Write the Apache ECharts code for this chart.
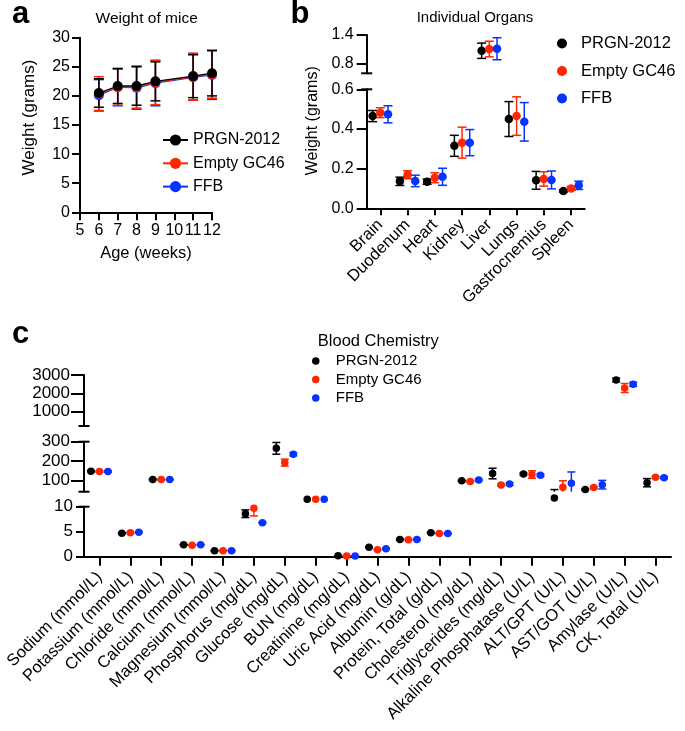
<!DOCTYPE html>
<html>
<head>
<meta charset="utf-8">
<script src="https://cdn.jsdelivr.net/npm/echarts@6/dist/echarts.min.js"></script>
<style>
  html, body { margin: 0; background: #fff; }
  #main { width: 685px; height: 731px; }
</style>
</head>
<body>
<div id="main"></div>
<script>
const groups = ['PRGN-2012', 'Empty GC46', 'FFB'];
const groupColors = ['#000000', '#ff2600', '#0433ff'];

// a: weight of mice
const weeks = [6, 7, 8, 9, 11, 12];
const weekTicks = [5, 6, 7, 8, 9, 10, 11, 12];
const weightTicks = [0, 5, 10, 15, 20, 25, 30];
const weightPRGN = [20.5, 21.7, 21.7, 22.5, 23.4, 23.9];
const weightPRGNSd = [2.45, 3.0, 3.3, 3.35, 3.7, 3.9];
const weightEmpty = [20.4, 21.5, 21.5, 22.3, 23.3, 23.7];
const weightEmptySd = [2.9, 3.1, 3.6, 3.8, 4.05, 4.1];
const weightFFB = [20.1, 21.5, 21.4, 22.2, 23.2, 23.6];
const weightFFBSd = [2.7, 3.2, 3.7, 3.9, 3.9, 4.2];

// b: individual organs (segment 1 = upper part of the broken axis)
const organs = ['Brain', 'Duodenum', 'Heart', 'Kidney', 'Liver', 'Lungs', 'Gastrocnemius', 'Spleen'];
const organSegment = [0, 0, 0, 0, 1, 0, 0, 0];
const organTicksLow = [0, 0.2, 0.4, 0.6];
const organTicksHigh = [0.8, 1.4];
const organPRGN = [0.465, 0.136, 0.134, 0.315, 1.067, 0.45, 0.141, 0.087];
const organPRGNSd = [0.028, 0.021, 0.013, 0.053, 0.162, 0.088, 0.045, 0.005];
const organEmpty = [0.482, 0.169, 0.154, 0.331, 1.103, 0.465, 0.148, 0.100];
const organEmptySd = [0.025, 0.02, 0.025, 0.078, 0.165, 0.097, 0.036, 0.01];
const organFFB = [0.474, 0.138, 0.159, 0.331, 1.109, 0.436, 0.143, 0.116];
const organFFBSd = [0.043, 0.029, 0.043, 0.066, 0.233, 0.097, 0.045, 0.021];

// c: blood chemistry (segment 0 = 0-10, 1 = 100-300, 2 = 1000-3000)
const bloodTests = ['Sodium (mmol/L)', 'Potassium (mmol/L)', 'Chloride (mmol/L)', 'Calcium (mmol/L)',
  'Magnesium (mmol/L)', 'Phosphorus (mg/dL)', 'Glucose (mg/dL)', 'BUN (mg/dL)', 'Creatinine (mg/dL)',
  'Uric Acid (mg/dL)', 'Albumin (g/dL)', 'Protein, Total (g/dL)', 'Cholesterol (mg/dL)',
  'Triglycerides (mg/dL)', 'Alkaline Phosphatase (U/L)', 'ALT/GPT (U/L)', 'AST/GOT (U/L)',
  'Amylase (U/L)', 'CK, Total (U/L)'];
const bloodSegment = [1, 0, 1, 0, 0, 0, 1, 0, 0, 0, 0, 0, 1, 1, 1, 1, 1, 2, 1];
const bloodTicksLow = [0, 5, 10];
const bloodTicksMid = [100, 200, 300];
const bloodTicksHigh = [1000, 2000, 3000];
const bloodPRGN = [149, 4.7, 106, 2.4, 1.2, 8.6, 266, 11.5, 0.2, 1.9, 3.45, 4.8, 100, 137, 135, 12, 55, 2727, 90];
const bloodPRGNSd = [3, 0.1, 2, 0.05, 0.05, 0.77, 30, 0.3, 0.02, 0.1, 0.1, 0.1, 3, 27, 5, 43, 3, 100, 21];
const bloodEmpty = [147, 4.8, 106, 2.3, 1.2, 9.7, 193, 11.5, 0.15, 1.4, 3.4, 4.65, 96, 78, 132, 67, 65, 2291, 118];
const bloodEmptySd = [3, 0.1, 2, 0.05, 0.05, 1.55, 18, 0.3, 0.02, 0.1, 0.1, 0.1, 4, 5, 19, 33, 5, 245, 5];
const bloodFFB = [147, 4.9, 106, 2.4, 1.2, 6.8, 236, 11.5, 0.15, 1.6, 3.45, 4.65, 104, 83, 128, 87, 80, 2493, 116];
const bloodFFBSd = [3, 0.1, 2, 0.05, 0.05, 0.1, 8, 0.3, 0.02, 0.1, 0.1, 0.1, 4, 6, 6, 58, 22, 110, 5];

const font = "'Liberation Sans', Arial, Helvetica, sans-serif";
const organRanges = [[0, 0.6], [0.59, 1.4]];
const bloodRanges = [[0, 10], [44, 300], [220, 3000]];

// error bar drawn with the axis scale, clipped to the axis segment
function errorBars(offset, capHalf, range) {
  return function (params, api) {
    const x = api.value(0), m = api.value(1), s = api.value(2);
    const hi = Math.min(m + s, range[1]);
    const lo = Math.max(m - s, range[0]);
    if (hi <= lo) return null;
    const pHi = api.coord([x, hi]);
    const pLo = api.coord([x, lo]);
    const cx = pHi[0] + offset;
    const st = { stroke: api.visual('color'), lineWidth: 1.5 };
    const kids = [{ type: 'line', shape: { x1: cx, y1: pHi[1], x2: cx, y2: pLo[1] }, style: st }];
    if (m + s <= range[1]) {
      kids.push({ type: 'line', shape: { x1: cx - capHalf, y1: pHi[1], x2: cx + capHalf, y2: pHi[1] }, style: st });
    }
    if (m - s >= range[0]) {
      kids.push({ type: 'line', shape: { x1: cx - capHalf, y1: pLo[1], x2: cx + capHalf, y2: pLo[1] }, style: st });
    }
    return { type: 'group', children: kids };
  };
}

function segData(means, sds, segs, seg) {
  let out = [];
  for (let i = 0; i < means.length; i++) {
    if (segs[i] === seg) out.push([i, means[i], sds[i]]);
  }
  return out;
}

let series = [];

// panel a
const weightMeans = [weightPRGN, weightEmpty, weightFFB];
const weightSds = [weightPRGNSd, weightEmptySd, weightFFBSd];
for (let g = 2; g >= 0; g--) {
  series.push({
    type: 'custom', name: 'aerr' + g, xAxisIndex: 0, yAxisIndex: 0, z: 2,
    itemStyle: { color: groupColors[g] },
    renderItem: errorBars(0, 5, [0, 30]),
    data: weeks.map((w, i) => [w, weightMeans[g][i], weightSds[g][i]])
  });
}
for (let g = 2; g >= 0; g--) {
  series.push({
    type: 'line', name: 'a|' + groups[g], xAxisIndex: 0, yAxisIndex: 0, z: 3,
    symbol: 'circle', symbolSize: 10,
    itemStyle: { color: groupColors[g] },
    lineStyle: { color: groupColors[g], width: 1.3 },
    data: weeks.map((w, i) => [w, weightMeans[g][i]])
  });
}

// panel b
const organMeans = [organPRGN, organEmpty, organFFB];
const organSds = [organPRGNSd, organEmptySd, organFFBSd];
const organOffsets = [-7.7, 0, 7.7];
for (let seg = 0; seg < 2; seg++) {
  for (let g = 0; g < 3; g++) {
    const data = segData(organMeans[g], organSds[g], organSegment, seg);
    series.push({
      type: 'custom', name: 'berr' + g, xAxisIndex: 1 + seg, yAxisIndex: 1 + seg, z: 2,
      itemStyle: { color: groupColors[g] },
      renderItem: errorBars(organOffsets[g], 4.5, organRanges[seg]),
      data: data
    });
    series.push({
      type: 'scatter', name: 'b|' + groups[g], xAxisIndex: 1 + seg, yAxisIndex: 1 + seg, z: 3,
      symbolSize: 8.5, symbolOffset: [organOffsets[g], 0], clip: false,
      itemStyle: { color: groupColors[g], opacity: 1 },
      data: data
    });
  }
}

// panel c
const bloodMeans = [bloodPRGN, bloodEmpty, bloodFFB];
const bloodSds = [bloodPRGNSd, bloodEmptySd, bloodFFBSd];
const bloodOffsets = [-8.5, 0, 8.5];
for (let seg = 0; seg < 3; seg++) {
  for (let g = 0; g < 3; g++) {
    const data = segData(bloodMeans[g], bloodSds[g], bloodSegment, seg);
    series.push({
      type: 'custom', name: 'cerr' + g, xAxisIndex: 3 + seg, yAxisIndex: 3 + seg, z: 2,
      itemStyle: { color: groupColors[g] },
      renderItem: errorBars(bloodOffsets[g], 4, bloodRanges[seg]),
      data: data
    });
    series.push({
      type: 'scatter', name: 'c|' + groups[g], xAxisIndex: 3 + seg, yAxisIndex: 3 + seg, z: 3,
      symbolSize: 7.5, symbolOffset: [bloodOffsets[g], 0], clip: false,
      itemStyle: { color: groupColors[g], opacity: 1 },
      data: data
    });
  }
}

const black = '#000';
function line(symbol) {
  return { show: true, onZero: false, lineStyle: { color: black, width: 2 }, symbol: symbol, symbolSize: [11, 2] };
}
function tick(len, values, extra) {
  let t = { show: true, length: len, lineStyle: { color: black, width: 2 } };
  if (values) t.customValues = values;
  return Object.assign(t, extra || {});
}
function label(size, margin, values, extra) {
  let l = { show: true, color: black, fontSize: size, margin: margin, fontFamily: font };
  if (values) l.customValues = values;
  return Object.assign(l, extra || {});
}
const noSplit = { show: false };
const fmt1 = v => Number(v).toFixed(1);
const fmtPlain = v => String(v);

const xAxis = [
  { type: 'value', gridIndex: 0, min: 5, max: 12, axisLine: line('none'), axisTick: tick(8, weekTicks),
    axisLabel: label(16, 10, weekTicks), splitLine: noSplit,
    name: 'Age (weeks)', nameLocation: 'middle', nameGap: 33,
    nameTextStyle: { color: black, fontSize: 16.5, fontFamily: font } },
  { type: 'category', gridIndex: 1, data: organs, axisLine: line('none'),
    axisTick: tick(7, null, { alignWithLabel: true }),
    axisLabel: label(16.5, 14, null, { rotate: 45, interval: 0 }) },
  { type: 'category', gridIndex: 2, data: organs, show: false },
  { type: 'category', gridIndex: 3, data: bloodTests, axisLine: line('none'),
    axisTick: tick(9, null, { alignWithLabel: true }),
    axisLabel: label(16.6, 18, null, { rotate: 45, interval: 0 }) },
  { type: 'category', gridIndex: 4, data: bloodTests, show: false },
  { type: 'category', gridIndex: 5, data: bloodTests, show: false }
];

const yAxis = [
  { type: 'value', gridIndex: 0, min: 0, max: 30, axisLine: line('none'), axisTick: tick(8, weightTicks),
    axisLabel: label(16, 10, weightTicks), splitLine: noSplit },
  { type: 'value', gridIndex: 1, min: 0, max: 0.6, axisLine: line(['none', 'rect']),
    axisTick: tick(10, organTicksLow), axisLabel: label(16, 13, organTicksLow, { formatter: fmt1 }), splitLine: noSplit },
  { type: 'value', gridIndex: 2, min: 0.59, max: 1.4, axisLine: line(['rect', 'none']),
    axisTick: tick(10, organTicksHigh), axisLabel: label(16, 13, organTicksHigh, { formatter: fmt1 }), splitLine: noSplit },
  { type: 'value', gridIndex: 3, min: 0, max: 10, axisLine: line(['none', 'rect']),
    axisTick: tick(8, bloodTicksLow), axisLabel: label(17, 11, bloodTicksLow, { formatter: fmtPlain }), splitLine: noSplit },
  { type: 'value', gridIndex: 4, min: 44, max: 300, axisLine: line(['rect', 'rect']),
    axisTick: tick(13, bloodTicksMid), axisLabel: label(17, 14, bloodTicksMid, { formatter: fmtPlain }), splitLine: noSplit },
  { type: 'value', gridIndex: 5, min: 220, max: 3000, axisLine: line(['rect', 'none']),
    axisTick: tick(13, bloodTicksHigh), axisLabel: label(17, 14, bloodTicksHigh, { formatter: fmtPlain }), splitLine: noSplit }
];

const grid = [
  { left: 80, top: 37.7, width: 132, height: 174.6 },
  { left: 366.7, top: 89.3, width: 218, height: 119 },
  { left: 366.7, top: 35, width: 218, height: 38.3 },
  { left: 84, top: 506.7, width: 587, height: 50 },
  { left: 84, top: 441.7, width: 587, height: 50 },
  { left: 84, top: 375, width: 587, height: 51 }
].map(g => Object.assign(g, { outerBoundsMode: 'none' }));

const stripName = n => n.split('|')[1];
const legend = [
  { data: groups.map(n => 'a|' + n), orient: 'vertical', left: 162, top: 132, padding: 0,
    itemWidth: 25, itemHeight: 14, itemGap: 7.3, selectedMode: false, formatter: stripName,
    textStyle: { color: black, fontSize: 16, lineHeight: 16, fontFamily: font } },
  { data: groups.map(n => 'b|' + n), orient: 'vertical', left: 557, top: 35, padding: 0,
    icon: 'circle', itemWidth: 28, itemHeight: 10, itemGap: 10.5, selectedMode: false, formatter: stripName,
    textStyle: { color: black, fontSize: 16.5, lineHeight: 17, fontFamily: font } },
  { data: groups.map(n => 'c|' + n), orient: 'vertical', left: 312, top: 353.5, padding: 0,
    icon: 'circle', itemWidth: 30, itemHeight: 7.5, itemGap: 3.5, selectedMode: false, formatter: stripName,
    textStyle: { color: black, fontSize: 15, lineHeight: 15, fontFamily: font } }
];

function txt(text, x, y, size, opts) {
  return Object.assign({
    type: 'text', x: x, y: y,
    style: Object.assign({
      text: text, font: size + 'px ' + font, fill: black,
      align: 'left', verticalAlign: 'middle', textAlign: 'left', textVerticalAlign: 'middle'
    }, (opts && opts.style) || {})
  }, (opts && opts.el) || {});
}
const center = { align: 'center', textAlign: 'center' };

const graphic = [
  txt('a', 12, 14.3, 'bold 31'),
  txt('b', 290.5, 14.3, 'bold 31'),
  txt('c', 12, 334.3, 'bold 31'),
  txt('Weight of mice', 146.7, 18.9, 15.5, { style: center }),
  txt('Individual Organs', 475, 18.1, 15, { style: center }),
  txt('Blood Chemistry', 378.3, 341, 16.5, { style: center }),
  txt('Weight (grams)', 29.7, 117.5, 17, { style: center, el: { rotation: Math.PI / 2 } }),
  txt('Weight (grams)', 312.7, 120.8, 16, { style: center, el: { rotation: Math.PI / 2 } })
];

const chart = echarts.init(document.getElementById('main'), null, { renderer: 'canvas' });
chart.setOption({
  animation: false,
  backgroundColor: '#ffffff',
  textStyle: { fontFamily: font, color: black },
  grid: grid,
  xAxis: xAxis,
  yAxis: yAxis,
  legend: legend,
  graphic: graphic,
  series: series
});
</script>
</body>
</html>
